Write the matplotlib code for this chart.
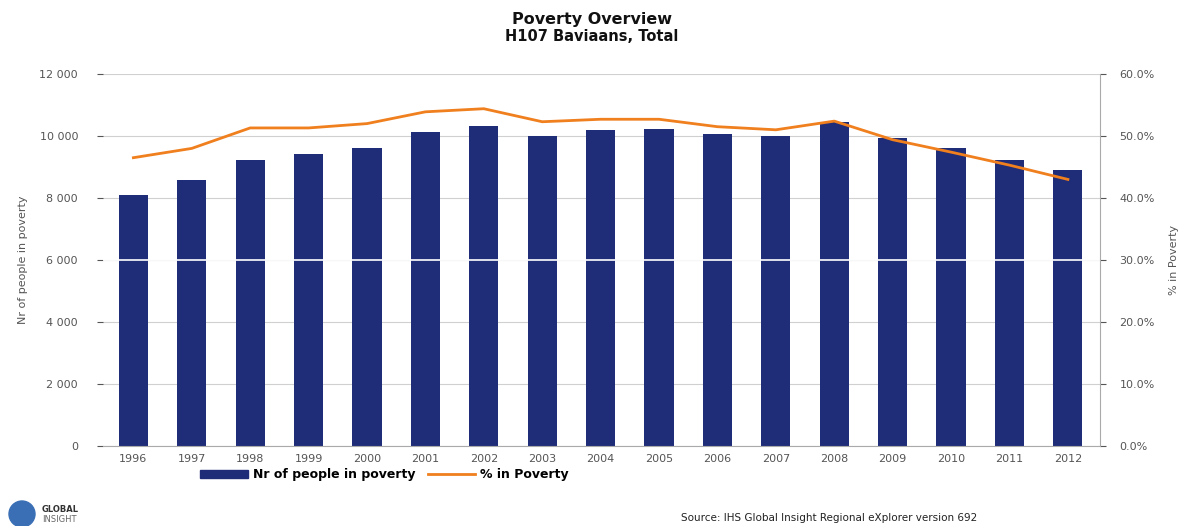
import matplotlib
matplotlib.use("Agg")
import matplotlib.pyplot as plt
from matplotlib.patches import Ellipse, Patch
from matplotlib.lines import Line2D
from matplotlib.ticker import FuncFormatter

years = ["1996", "1997", "1998", "1999", "2000", "2001", "2002", "2003", "2004",
         "2005", "2006", "2007", "2008", "2009", "2010", "2011", "2012"]
people = [8100, 8580, 9230, 9420, 9610, 10130, 10320, 10000, 10190,
          10230, 10060, 10000, 10450, 9940, 9610, 9230, 8900]
pct = [46.5, 48.0, 51.3, 51.3, 52.0, 53.9, 54.4, 52.3, 52.7,
       52.7, 51.5, 51.0, 52.4, 49.4, 47.4, 45.3, 43.0]

navy = "#1f2c78"
orange = "#f07f1e"
tick_col = "#555555"

fig = plt.figure(figsize=(11.84, 5.26), dpi=100)
ax = fig.add_axes([103/1184, 80/526, (1100-103)/1184, (446-74)/526])
ax2 = ax.twinx()

x = list(range(len(years)))
ax.bar(x, people, width=0.5, color=navy, zorder=2)
ax.set_ylim(0, 12000)
ax.set_xlim(-0.52, 16.55)
ax.set_yticks(range(0, 12001, 2000))
ax.yaxis.set_major_formatter(FuncFormatter(lambda v, p: f"{int(v):,}".replace(",", " ")))
ax.grid(axis="y", color="#d0d0d0", linewidth=0.8, zorder=0)
ax.set_axisbelow(True)
ax.axhline(6000, color="white", linewidth=1.2, zorder=3)
ax.set_xticks(x)
ax.set_xticklabels(years)
for s in ["top", "right", "left"]:
    ax.spines[s].set_visible(False)
ax.spines["bottom"].set_color("#aaaaaa")
ax.tick_params(axis="y", colors=tick_col, labelsize=8, length=4, pad=14)
ax.tick_params(axis="x", colors=tick_col, labelsize=8, length=0, pad=6)
ax.set_ylabel("Nr of people in poverty", fontsize=8, color=tick_col, labelpad=8)

ax2.plot(x, pct, color=orange, linewidth=2, zorder=4)
ax2.set_ylim(0, 60)
ax2.set_yticks(range(0, 61, 10))
ax2.yaxis.set_major_formatter(FuncFormatter(lambda v, p: f"{v:.1f}%"))
for s in ["top", "left", "bottom"]:
    ax2.spines[s].set_visible(False)
ax2.spines["right"].set_color("#aaaaaa")
ax2.tick_params(axis="y", colors=tick_col, labelsize=8, length=4, pad=10)
ax2.set_ylabel("% in Poverty", fontsize=8, color=tick_col, labelpad=10)

fig.text(0.5, 0.962, "Poverty Overview", ha="center", va="center",
         fontsize=11.5, fontweight="bold", color="#111111")
fig.text(0.5, 0.93, "H107 Baviaans, Total", ha="center", va="center",
         fontsize=10.5, fontweight="bold", color="#111111")

handles = [Patch(color=navy), Line2D([0], [0], color=orange, linewidth=2)]
fig.legend(handles, ["Nr of people in poverty", "% in Poverty"],
           loc="center", bbox_to_anchor=(0.325, 0.097), ncol=2, frameon=False,
           prop={"size": 9, "weight": "bold"}, handlelength=3.8,
           handleheight=0.7, columnspacing=1.0, handletextpad=0.4)

logo = Ellipse((22/1184, 1 - 514/526), 26/1184, 26/526, transform=fig.transFigure,
               color="#3a6fb5", zorder=5)
fig.patches.append(logo)
fig.text(42/1184, 1 - 509/526, "GLOBAL", fontsize=6, fontweight="bold",
         color="#333333", va="center")
fig.text(42/1184, 1 - 519/526, "INSIGHT", fontsize=6, color="#666666", va="center")

fig.text(0.575, 1 - 518/526,
         "Source: IHS Global Insight Regional eXplorer version 692",
         fontsize=7.5, color="#222222", va="center")

fig.savefig("out.png", dpi=100, facecolor="white")
